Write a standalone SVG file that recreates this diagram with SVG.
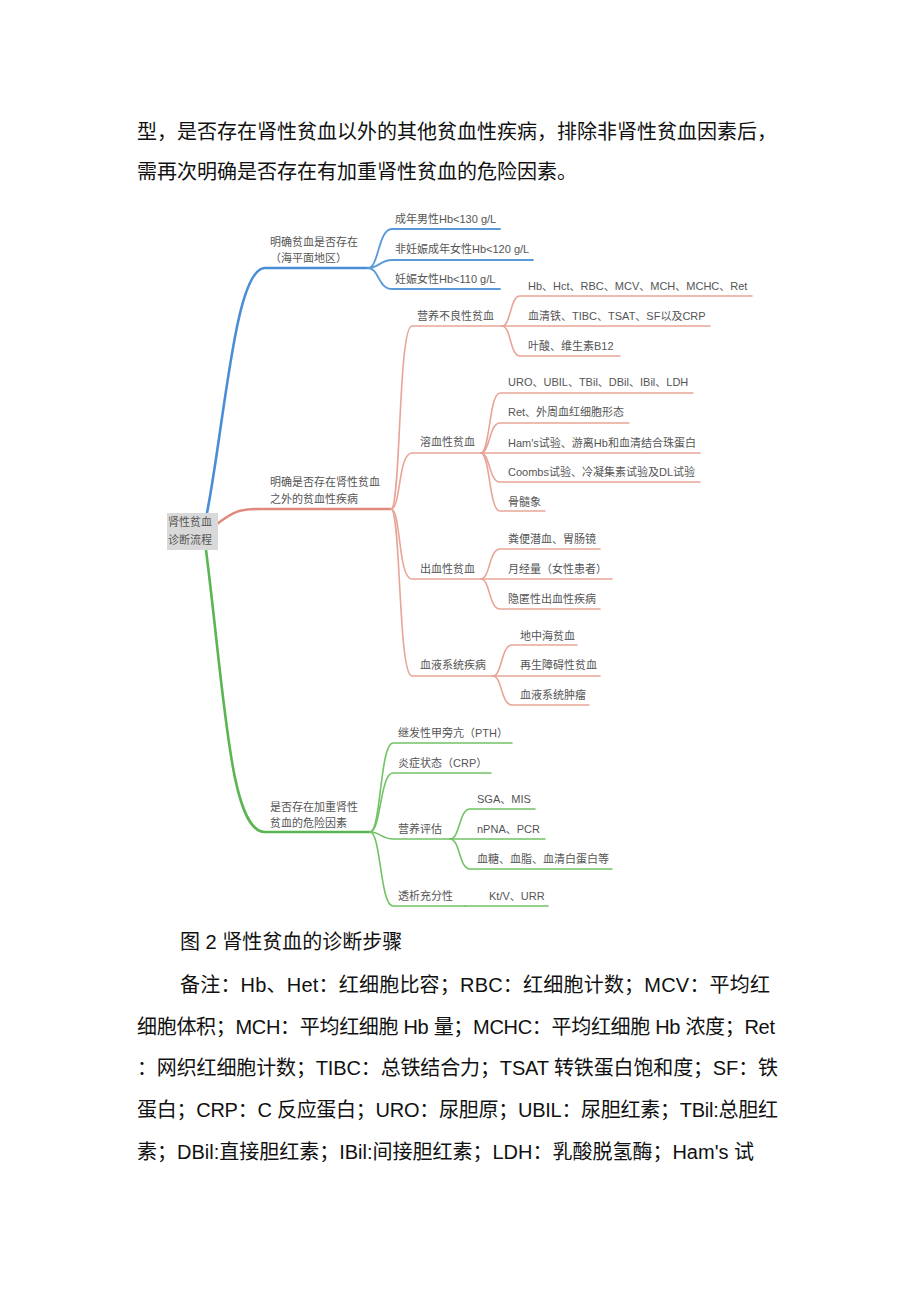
<svg xmlns="http://www.w3.org/2000/svg" width="920" height="1301" viewBox="0 0 920 1301">
<style>
.body{font-family:"Liberation Sans","Noto Sans CJK SC",sans-serif;font-size:20px;fill:#111}
.mm{font-family:"Liberation Sans","Noto Sans CJK SC",sans-serif;font-size:11px;fill:#555}
.c{fill:none;stroke-linecap:round;stroke-linejoin:round}
.b1{stroke:#4a8fd6;stroke-width:2.6}
.b2{stroke:#5b9ad8;stroke-width:1.8}
.r1{stroke:#e2897e;stroke-width:2.6}
.r2{stroke:#e8a597;stroke-width:1.6}
.g1{stroke:#5cb553;stroke-width:2.6}
.g2{stroke:#72c266;stroke-width:1.6}
</style>
<rect width="920" height="1301" fill="#fff"/>

<g id="intro">
<text class="body" x="137" y="139">型，是否存在肾性贫血以外的其他贫血性疾病，排除非肾性贫血因素后，</text>
<text class="body" x="137" y="179">需再次明确是否存在有加重肾性贫血的危险因素。</text>
</g>

<g id="connectors">
<path class="c b1" d="M207,513 C225,420 235,268 265,268 L368,268"/>
<path class="c b2" d="M368,268 C379,268 378,229 392,229 L500,229"/>
<path class="c b2" d="M368,268 C379,268 380,260 392,260 L533,260"/>
<path class="c b2" d="M368,268 C379,268 378,289 392,289 L500,289"/>

<path class="c r1" d="M217,524 C234,511 240,509 260,509 L391,509"/>
<path class="c r2" d="M391,509 C401,509 398,326 412,326 L502,326"/>
<path class="c r2" d="M391,509 C401,509 398,453 412,453 L481,453"/>
<path class="c r2" d="M391,509 C401,509 398,579 412,579 L481,579"/>
<path class="c r2" d="M391,509 C401,509 398,676 412,676 L493,676"/>
<path class="c r2" d="M502,326 C511,326 510,296 520,296 L752,296"/>
<path class="c r2" d="M502,326 L710,326"/>
<path class="c r2" d="M502,326 C511,326 510,356 520,356 L620,356"/>
<path class="c r2" d="M481,453 C490,453 489,393 500,393 L693,393"/>
<path class="c r2" d="M481,453 C490,453 489,423 500,423 L629,423"/>
<path class="c r2" d="M481,453 L700,453"/>
<path class="c r2" d="M481,453 C490,453 489,482 500,482 L700,482"/>
<path class="c r2" d="M481,453 C490,453 489,511 500,511 L545,511"/>
<path class="c r2" d="M481,579 C490,579 489,549 500,549 L600,549"/>
<path class="c r2" d="M481,579 L612,579"/>
<path class="c r2" d="M481,579 C490,579 489,609 500,609 L600,609"/>
<path class="c r2" d="M493,676 C502,676 501,645 512,645 L577,645"/>
<path class="c r2" d="M493,676 L600,676"/>
<path class="c r2" d="M493,676 C502,676 501,705 512,705 L589,705"/>

<path class="c g1" d="M206,550 C225,700 230,832 265,832 L370,832"/>
<path class="c g2" d="M370,832 C381,832 380,743 393,743 L512,743"/>
<path class="c g2" d="M370,832 C381,832 380,773 393,773 L491,773"/>
<path class="c g2" d="M370,832 C380,832 382,839 393,839 L450,839"/>
<path class="c g2" d="M370,832 C381,832 380,906 393,906 L465,906"/>
<path class="c g2" d="M450,839 C460,839 459,809 470,809 L535,809"/>
<path class="c g2" d="M450,839 L545,839"/>
<path class="c g2" d="M450,839 C460,839 459,869 470,869 L612,869"/>
<path class="c g2" d="M465,906 L548,906"/>
</g>

<g id="root">
<rect x="167" y="513" width="51" height="37" fill="#d9d9d9"/>
<text class="mm" x="168" y="526">肾性贫血</text>
<text class="mm" x="168" y="544">诊断流程</text>
</g>

<g id="n-anemia">
<text class="mm" x="270" y="246">明确贫血是否存在</text>
<text class="mm" x="270" y="262">（海平面地区）</text>
</g>
<g id="n-anemia-1"><text class="mm" x="395" y="223">成年男性Hb&lt;130 g/L</text></g>
<g id="n-anemia-2"><text class="mm" x="395" y="253">非妊娠成年女性Hb&lt;120 g/L</text></g>
<g id="n-anemia-3"><text class="mm" x="395" y="283">妊娠女性Hb&lt;110 g/L</text></g>

<g id="n-other">
<text class="mm" x="270" y="486">明确是否存在肾性贫血</text>
<text class="mm" x="270" y="503">之外的贫血性疾病</text>
</g>
<g id="n-nutri"><text class="mm" x="417" y="320">营养不良性贫血</text></g>
<g id="n-nutri-1"><text class="mm" x="528" y="290">Hb、Hct、RBC、MCV、MCH、MCHC、Ret</text></g>
<g id="n-nutri-2"><text class="mm" x="528" y="320">血清铁、TIBC、TSAT、SF以及CRP</text></g>
<g id="n-nutri-3"><text class="mm" x="528" y="350">叶酸、维生素B12</text></g>

<g id="n-hemo"><text class="mm" x="420" y="446">溶血性贫血</text></g>
<g id="n-hemo-1"><text class="mm" x="508" y="386">URO、UBIL、TBil、DBil、IBil、LDH</text></g>
<g id="n-hemo-2"><text class="mm" x="508" y="416">Ret、外周血红细胞形态</text></g>
<g id="n-hemo-3"><text class="mm" x="508" y="447">Ham's试验、游离Hb和血清结合珠蛋白</text></g>
<g id="n-hemo-4"><text class="mm" x="508" y="476">Coombs试验、冷凝集素试验及DL试验</text></g>
<g id="n-hemo-5"><text class="mm" x="508" y="506">骨髓象</text></g>

<g id="n-bleed"><text class="mm" x="420" y="573">出血性贫血</text></g>
<g id="n-bleed-1"><text class="mm" x="508" y="543">粪便潜血、胃肠镜</text></g>
<g id="n-bleed-2"><text class="mm" x="508" y="573">月经量（女性患者）</text></g>
<g id="n-bleed-3"><text class="mm" x="508" y="603">隐匿性出血性疾病</text></g>

<g id="n-blood"><text class="mm" x="420" y="669">血液系统疾病</text></g>
<g id="n-blood-1"><text class="mm" x="520" y="640">地中海贫血</text></g>
<g id="n-blood-2"><text class="mm" x="520" y="669">再生障碍性贫血</text></g>
<g id="n-blood-3"><text class="mm" x="520" y="699">血液系统肿瘤</text></g>

<g id="n-risk">
<text class="mm" x="270" y="811">是否存在加重肾性</text>
<text class="mm" x="270" y="827">贫血的危险因素</text>
</g>
<g id="n-pth"><text class="mm" x="398" y="737">继发性甲旁亢（PTH）</text></g>
<g id="n-crp"><text class="mm" x="398" y="767">炎症状态（CRP）</text></g>
<g id="n-nut"><text class="mm" x="398" y="833">营养评估</text></g>
<g id="n-nut-1"><text class="mm" x="477" y="803">SGA、MIS</text></g>
<g id="n-nut-2"><text class="mm" x="477" y="833">nPNA、PCR</text></g>
<g id="n-nut-3"><text class="mm" x="477" y="863">血糖、血脂、血清白蛋白等</text></g>
<g id="n-dial"><text class="mm" x="398" y="900">透析充分性</text></g>
<g id="n-dial-1"><text class="mm" x="489" y="900">Kt/V、URR</text></g>

<g id="notes">
<text class="body" x="180" y="949">图 2 肾性贫血的诊断步骤</text>
<text class="body" x="180" y="992" textLength="590" lengthAdjust="spacing">备注：Hb、Het：红细胞比容；RBC：红细胞计数；MCV：平均红</text>
<text class="body" x="137" y="1034" textLength="638" lengthAdjust="spacing">细胞体积；MCH：平均红细胞 Hb 量；MCHC：平均红细胞 Hb 浓度；Ret</text>
<text class="body" x="137" y="1075" textLength="641" lengthAdjust="spacing">：网织红细胞计数；TIBC：总铁结合力；TSAT 转铁蛋白饱和度；SF：铁</text>
<text class="body" x="137" y="1117" textLength="641" lengthAdjust="spacing">蛋白；CRP：C 反应蛋白；URO：尿胆原；UBIL：尿胆红素；TBil:总胆红</text>
<text class="body" x="137" y="1159" textLength="617" lengthAdjust="spacing">素；DBil:直接胆红素；IBil:间接胆红素；LDH：乳酸脱氢酶；Ham's 试</text>
</g>
</svg>
